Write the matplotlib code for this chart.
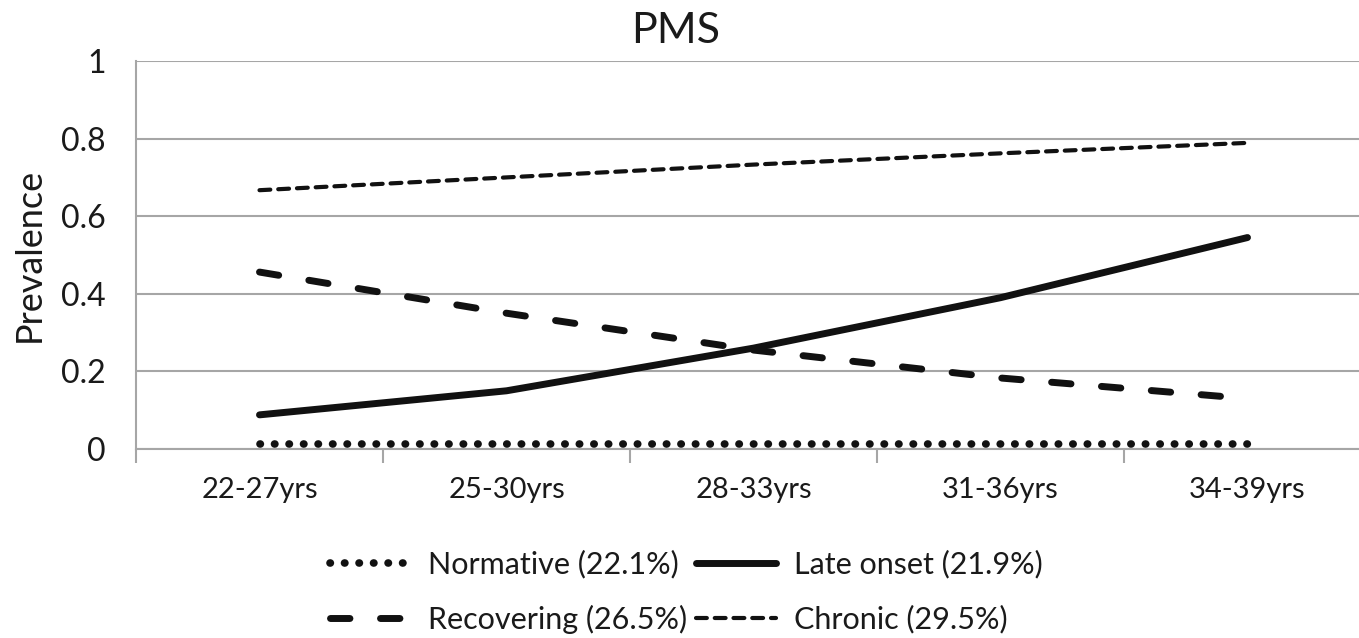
import matplotlib
matplotlib.use("Agg")
import matplotlib.pyplot as plt

categories = ["22-27yrs", "25-30yrs", "28-33yrs", "31-36yrs", "34-39yrs"]
normative = [0.012, 0.012, 0.012, 0.012, 0.012]
late_onset = [0.088, 0.15, 0.26, 0.39, 0.545]
recovering = [0.456, 0.35, 0.255, 0.183, 0.13]
chronic = [0.667, 0.70, 0.733, 0.762, 0.789]
labels = ["Normative (22.1%)", "Late onset (21.9%)", "Recovering (26.5%)", "Chronic (29.5%)"]
yticks = [0, 0.2, 0.4, 0.6, 0.8, 1]
ytick_labels = ["0", "0.2", "0.4", "0.6", "0.8", "1"]

plt.rcParams['font.family'] = ['Lato', 'DejaVu Sans']
fig = plt.figure(figsize=(13.59, 6.38), dpi=100)
ax = fig.add_axes([136/1359, 1-449/638, 1235/1359, 388/638])

x = list(range(len(categories)))
ax.plot(x, normative, color='#111111', lw=5.5, linestyle=(0, (0.05, 1.85)), dash_capstyle='round', label=labels[0])
ax.plot(x, recovering, color='#111111', lw=5, linestyle=(0, (2.8, 4.4)), dash_capstyle='round', label=labels[2])
ax.plot(x, late_onset, color='#111111', lw=5, solid_capstyle='round', label=labels[1])
ax.plot(x, chronic, color='#111111', lw=3, linestyle=(0, (2.6, 1.9)), dash_capstyle='round', label=labels[3])

ax.set_xlim(-0.5, 4.5)
ax.set_ylim(0, 1)
ax.set_yticks(yticks)
ax.set_yticklabels(ytick_labels)
ax.yaxis.grid(True, color='#a6a6a6', lw=1.5)
ax.set_axisbelow(True)
ax.set_xticks(x)
ax.set_xticklabels(categories)
ax.set_xticks([-0.5, 0.5, 1.5, 2.5, 3.5], minor=True)
ax.tick_params(axis='x', which='major', length=0, labelsize=21, pad=20, labelcolor='#1a1a1a')
ax.tick_params(axis='x', which='minor', length=10, width=1.5, color='#a6a6a6')
ax.tick_params(axis='y', length=0, labelsize=23, pad=22, labelcolor='#1a1a1a')
for s in ['top', 'right']:
    ax.spines[s].set_visible(False)
ax.spines['left'].set_color('#a6a6a6')
ax.spines['left'].set_linewidth(1.5)
ax.spines['bottom'].set_color('#a6a6a6')
ax.spines['bottom'].set_linewidth(1.5)

ax.set_ylabel("Prevalence", fontsize=26, color='#1a1a1a')
ax.yaxis.set_label_coords(-0.073, 0.5)
fig.text(0.497, 0.952, "PMS", ha='center', va='center', fontsize=31, color='#1a1a1a')

handles, labs = ax.get_legend_handles_labels()
leg = fig.legend(handles, labs, ncol=2, loc='center', bbox_to_anchor=(0.505, 0.072),
                 frameon=False, fontsize=22, handlelength=2.6, handletextpad=0.6,
                 columnspacing=0.3, labelspacing=0.85, labelcolor='#1a1a1a')
fig.savefig("out.png", dpi=100)
